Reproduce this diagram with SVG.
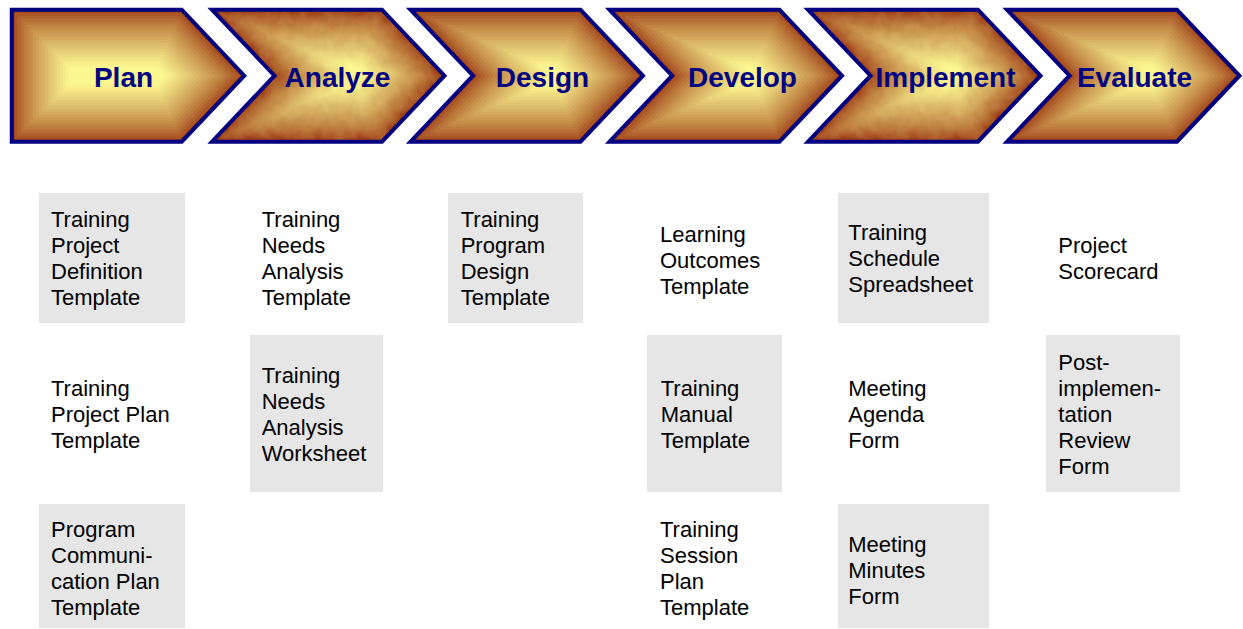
<svg xmlns="http://www.w3.org/2000/svg" xmlns:xlink="http://www.w3.org/1999/xlink" width="1243" height="629" viewBox="0 0 1243 629">
  <style>
    .outline { fill: none; stroke: #000080; stroke-width: 4; stroke-linejoin: miter; }
    .phase { font-family: "Liberation Sans", Arial, sans-serif; font-weight: bold; font-size: 28px; fill: #000080; text-anchor: middle; }
    .item { font-family: "Liberation Sans", Arial, sans-serif; font-size: 22px; fill: #000000; }
    .card { fill: #E6E6E6; }
    .band { fill: none; stroke-linejoin: miter; stroke-miterlimit: 4; }
  </style>
  <defs>
    <!-- chevron outlines in local coordinates (left edge at x=0) -->
    <path id="chev-flat" d="M0,9.7 H170 L232.5,75.7 L170,141.7 H0 Z"/>
    <path id="chev-notch" d="M0,9.7 H170 L232.5,75.7 L170,141.7 H0 L62.5,75.7 Z"/>
    <clipPath id="clip-flat"><use href="#chev-flat"/></clipPath>
    <clipPath id="clip-notch"><use href="#chev-notch"/></clipPath>

    <!-- banded "path" shading: widest (palest) stroke first, darkest narrow stroke last -->
    <g id="bands-flat">
      <use href="#chev-flat" fill="#FAF690"/>
      <use href="#chev-flat" class="band" stroke="#F8F18E" stroke-width="114"/>
      <use href="#chev-flat" class="band" stroke="#F4EA89" stroke-width="108"/>
      <use href="#chev-flat" class="band" stroke="#F1E284" stroke-width="102"/>
      <use href="#chev-flat" class="band" stroke="#EDDB7F" stroke-width="96"/>
      <use href="#chev-flat" class="band" stroke="#E9D37A" stroke-width="90"/>
      <use href="#chev-flat" class="band" stroke="#E5CB74" stroke-width="84"/>
      <use href="#chev-flat" class="band" stroke="#E1C36F" stroke-width="78"/>
      <use href="#chev-flat" class="band" stroke="#DCBA69" stroke-width="72"/>
      <use href="#chev-flat" class="band" stroke="#D8B263" stroke-width="66"/>
      <use href="#chev-flat" class="band" stroke="#D4A95E" stroke-width="60"/>
      <use href="#chev-flat" class="band" stroke="#CFA057" stroke-width="54"/>
      <use href="#chev-flat" class="band" stroke="#CB9751" stroke-width="48"/>
      <use href="#chev-flat" class="band" stroke="#C68E4B" stroke-width="42"/>
      <use href="#chev-flat" class="band" stroke="#C18444" stroke-width="36"/>
      <use href="#chev-flat" class="band" stroke="#BC7A3D" stroke-width="30"/>
      <use href="#chev-flat" class="band" stroke="#B66F36" stroke-width="24"/>
      <use href="#chev-flat" class="band" stroke="#B0632E" stroke-width="18"/>
      <use href="#chev-flat" class="band" stroke="#AA5625" stroke-width="12"/>
      <use href="#chev-flat" class="band" stroke="#9E4016" stroke-width="6"/>
    </g>
    <g id="bands-notch">
      <use href="#chev-notch" fill="#FAF690"/>
      <use href="#chev-notch" class="band" stroke="#F8F18E" stroke-width="114"/>
      <use href="#chev-notch" class="band" stroke="#F4EA89" stroke-width="108"/>
      <use href="#chev-notch" class="band" stroke="#F1E284" stroke-width="102"/>
      <use href="#chev-notch" class="band" stroke="#EDDB7F" stroke-width="96"/>
      <use href="#chev-notch" class="band" stroke="#E9D37A" stroke-width="90"/>
      <use href="#chev-notch" class="band" stroke="#E5CB74" stroke-width="84"/>
      <use href="#chev-notch" class="band" stroke="#E1C36F" stroke-width="78"/>
      <use href="#chev-notch" class="band" stroke="#DCBA69" stroke-width="72"/>
      <use href="#chev-notch" class="band" stroke="#D8B263" stroke-width="66"/>
      <use href="#chev-notch" class="band" stroke="#D4A95E" stroke-width="60"/>
      <use href="#chev-notch" class="band" stroke="#CFA057" stroke-width="54"/>
      <use href="#chev-notch" class="band" stroke="#CB9751" stroke-width="48"/>
      <use href="#chev-notch" class="band" stroke="#C68E4B" stroke-width="42"/>
      <use href="#chev-notch" class="band" stroke="#C18444" stroke-width="36"/>
      <use href="#chev-notch" class="band" stroke="#BC7A3D" stroke-width="30"/>
      <use href="#chev-notch" class="band" stroke="#B66F36" stroke-width="24"/>
      <use href="#chev-notch" class="band" stroke="#B0632E" stroke-width="18"/>
      <use href="#chev-notch" class="band" stroke="#AA5625" stroke-width="12"/>
      <use href="#chev-notch" class="band" stroke="#9E4016" stroke-width="6"/>
    </g>

    <!-- mottled variant used on two of the phases -->
    <filter id="mottle" x="-10%" y="-10%" width="120%" height="120%">
      <feGaussianBlur in="SourceGraphic" stdDeviation="1.6" result="soft"/>
      <feTurbulence type="fractalNoise" baseFrequency="0.09" numOctaves="2" seed="7" result="noise"/>
      <feDisplacementMap in="soft" in2="noise" scale="9" xChannelSelector="R" yChannelSelector="G"/>
    </filter>

    <g id="shade-flat" clip-path="url(#clip-flat)"><use href="#bands-flat"/></g>
    <g id="shade-notch" clip-path="url(#clip-notch)"><use href="#bands-notch"/></g>
    <g id="shade-notch-mottled" clip-path="url(#clip-notch)"><use href="#bands-notch" filter="url(#mottle)"/></g>
  </defs>

  <rect width="1243" height="629" fill="#FFFFFF"/>

  <!-- phase chevrons -->
  <g id="phase-plan" transform="translate(11.75,0)">
    <use href="#shade-flat"/>
    <use href="#chev-flat" class="outline"/>
    <text class="phase" x="111.75" y="87">Plan</text>
  </g>
  <g id="phase-analyze" transform="translate(212,0)">
    <use href="#shade-notch-mottled"/>
    <use href="#chev-notch" class="outline"/>
    <text class="phase" x="125.5" y="87">Analyze</text>
  </g>
  <g id="phase-design" transform="translate(410.5,0)">
    <use href="#shade-notch"/>
    <use href="#chev-notch" class="outline"/>
    <text class="phase" x="132" y="87">Design</text>
  </g>
  <g id="phase-develop" transform="translate(609.5,0)">
    <use href="#shade-notch"/>
    <use href="#chev-notch" class="outline"/>
    <text class="phase" x="133" y="87">Develop</text>
  </g>
  <g id="phase-implement" transform="translate(808,0)">
    <use href="#shade-notch-mottled"/>
    <use href="#chev-notch" class="outline"/>
    <text class="phase" x="137.5" y="87">Implement</text>
  </g>
  <g id="phase-evaluate" transform="translate(1007,0)">
    <use href="#shade-notch"/>
    <use href="#chev-notch" class="outline"/>
    <text class="phase" x="127.5" y="87">Evaluate</text>
  </g>

  <!-- no links between the items -->
  <g id="connectors"></g>

  <!-- Plan column -->
  <g id="plan-project-definition">
    <rect class="card" x="39" y="193" width="146" height="130"/>
    <text class="item" x="51" y="227"><tspan x="51">Training</tspan><tspan x="51" dy="26">Project</tspan><tspan x="51" dy="26">Definition</tspan><tspan x="51" dy="26">Template</tspan></text>
  </g>
  <g id="plan-project-plan">
    <text class="item" x="51" y="396"><tspan x="51">Training</tspan><tspan x="51" dy="26">Project Plan</tspan><tspan x="51" dy="26">Template</tspan></text>
  </g>
  <g id="plan-communication">
    <rect class="card" x="39" y="504" width="146" height="124"/>
    <text class="item" x="51" y="537"><tspan x="51">Program</tspan><tspan x="51" dy="26">Communi-</tspan><tspan x="51" dy="26">cation Plan</tspan><tspan x="51" dy="26">Template</tspan></text>
  </g>

  <!-- Analyze column -->
  <g id="analyze-needs-template">
    <text class="item" x="261.7" y="227"><tspan x="261.7">Training</tspan><tspan x="261.7" dy="26">Needs</tspan><tspan x="261.7" dy="26">Analysis</tspan><tspan x="261.7" dy="26">Template</tspan></text>
  </g>
  <g id="analyze-needs-worksheet">
    <rect class="card" x="250" y="335" width="133" height="157"/>
    <text class="item" x="261.7" y="383"><tspan x="261.7">Training</tspan><tspan x="261.7" dy="26">Needs</tspan><tspan x="261.7" dy="26">Analysis</tspan><tspan x="261.7" dy="26">Worksheet</tspan></text>
  </g>

  <!-- Design column -->
  <g id="design-program">
    <rect class="card" x="448" y="193" width="135" height="130"/>
    <text class="item" x="460.7" y="227"><tspan x="460.7">Training</tspan><tspan x="460.7" dy="26">Program</tspan><tspan x="460.7" dy="26">Design</tspan><tspan x="460.7" dy="26">Template</tspan></text>
  </g>

  <!-- Develop column -->
  <g id="develop-outcomes">
    <text class="item" x="660" y="241.5"><tspan x="660">Learning</tspan><tspan x="660" dy="26">Outcomes</tspan><tspan x="660" dy="26">Template</tspan></text>
  </g>
  <g id="develop-manual">
    <rect class="card" x="647" y="335" width="135" height="157"/>
    <text class="item" x="660.7" y="396"><tspan x="660.7">Training</tspan><tspan x="660.7" dy="26">Manual</tspan><tspan x="660.7" dy="26">Template</tspan></text>
  </g>
  <g id="develop-session-plan">
    <text class="item" x="660" y="537"><tspan x="660">Training</tspan><tspan x="660" dy="26">Session</tspan><tspan x="660" dy="26">Plan</tspan><tspan x="660" dy="26">Template</tspan></text>
  </g>

  <!-- Implement column -->
  <g id="implement-schedule">
    <rect class="card" x="838" y="193" width="151" height="130"/>
    <text class="item" x="848.3" y="240"><tspan x="848.3">Training</tspan><tspan x="848.3" dy="26">Schedule</tspan><tspan x="848.3" dy="26">Spreadsheet</tspan></text>
  </g>
  <g id="implement-agenda">
    <text class="item" x="848.3" y="396"><tspan x="848.3">Meeting</tspan><tspan x="848.3" dy="26">Agenda</tspan><tspan x="848.3" dy="26">Form</tspan></text>
  </g>
  <g id="implement-minutes">
    <rect class="card" x="838" y="504" width="151" height="124"/>
    <text class="item" x="848.3" y="551.5"><tspan x="848.3">Meeting</tspan><tspan x="848.3" dy="26">Minutes</tspan><tspan x="848.3" dy="26">Form</tspan></text>
  </g>

  <!-- Evaluate column -->
  <g id="evaluate-scorecard">
    <text class="item" x="1058.3" y="253.3"><tspan x="1058.3">Project</tspan><tspan x="1058.3" dy="26">Scorecard</tspan></text>
  </g>
  <g id="evaluate-review">
    <rect class="card" x="1046" y="335" width="134" height="157"/>
    <text class="item" x="1058.3" y="370"><tspan x="1058.3">Post-</tspan><tspan x="1058.3" dy="26">implemen-</tspan><tspan x="1058.3" dy="26">tation</tspan><tspan x="1058.3" dy="26">Review</tspan><tspan x="1058.3" dy="26">Form</tspan></text>
  </g>
</svg>
